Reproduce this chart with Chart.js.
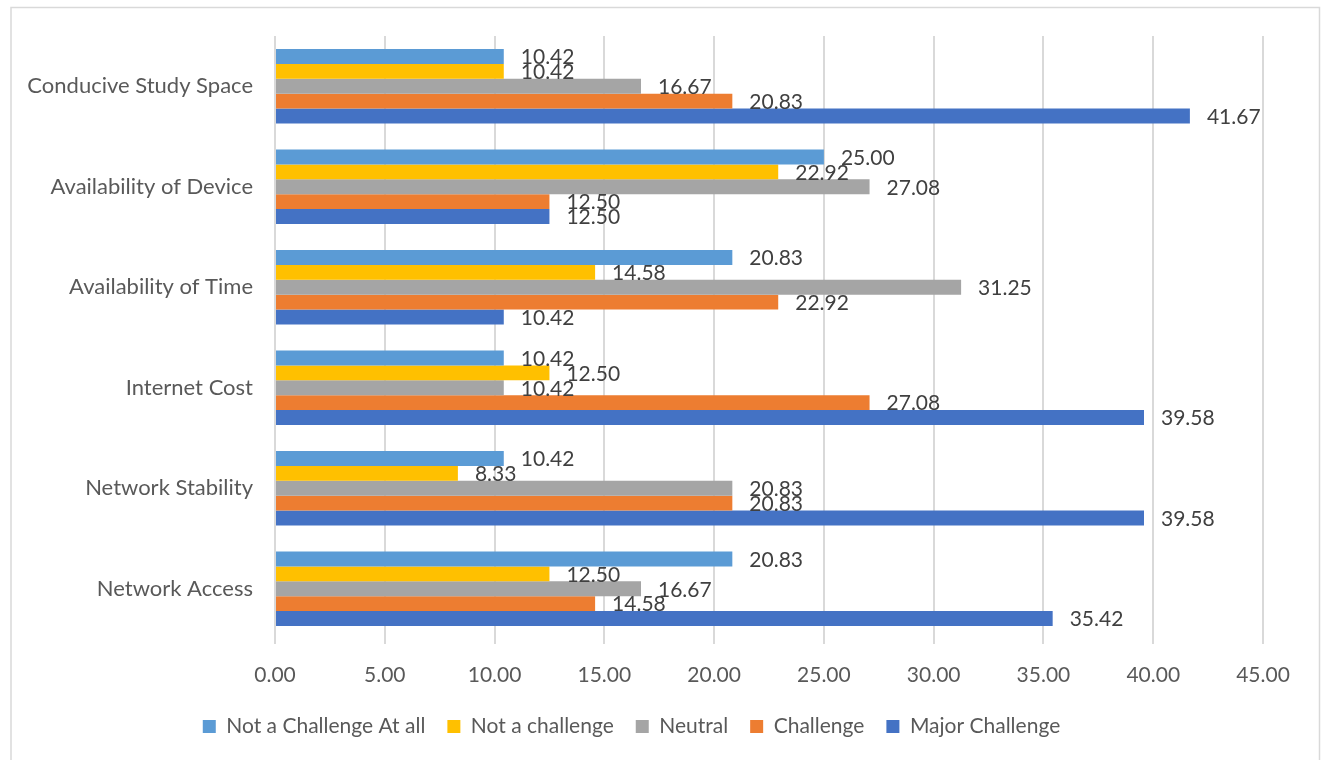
<!DOCTYPE html>
<html>
<head>
<meta charset="utf-8">
<title>Challenges</title>
<script src="https://cdn.jsdelivr.net/npm/chart.js@4.4.1/dist/chart.umd.min.js"></script>
<style>
  html, body { margin: 0; padding: 0; background: #fff; }
  #wrap { position: relative; width: 1322px; height: 760px; }
</style>
</head>
<body>
<div id="wrap"><canvas id="chart" width="1322" height="760"></canvas></div>
<script>
// Categories, top to bottom as shown in the chart
const categories = [
  "Conducive Study Space",
  "Availability of Device",
  "Availability of Time",
  "Internet Cost",
  "Network Stability",
  "Network Access"
];

const seriesNames = [
  "Not a Challenge At all",
  "Not a challenge",
  "Neutral",
  "Challenge",
  "Major Challenge"
];

const notAtAll = [10.42, 25.00, 20.83, 10.42, 10.42, 20.83];
const notChallenge = [10.42, 22.92, 14.58, 12.50, 8.33, 12.50];
const neutral = [16.67, 27.08, 31.25, 10.42, 20.83, 16.67];
const challenge = [20.83, 12.50, 22.92, 27.08, 20.83, 14.58];
const majorChallenge = [41.67, 12.50, 10.42, 39.58, 39.58, 35.42];

const xTicks = [0, 5, 10, 15, 20, 25, 30, 35, 40, 45];

const colors = ["#5B9BD5", "#FFC000", "#A5A5A5", "#ED7D31", "#4472C4"];
const seriesValues = [notAtAll, notChallenge, neutral, challenge, majorChallenge];

const FONT = "Lato, 'Open Sans', sans-serif";

// Outer frame like the Excel chart area
const framePlugin = {
  id: "frame",
  beforeDraw(chart) {
    const ctx = chart.ctx;
    ctx.save();
    ctx.fillStyle = "#ffffff";
    ctx.fillRect(0, 0, chart.width, chart.height);
    ctx.strokeStyle = "#D9D9D9";
    ctx.lineWidth = 1.5;
    ctx.beginPath();
    ctx.moveTo(11, 770);
    ctx.lineTo(11, 7.5);
    ctx.lineTo(1319.5, 7.5);
    ctx.lineTo(1319.5, 770);
    ctx.stroke();
    ctx.restore();
  }
};

// Value labels at the outside end of each bar
const valueLabels = {
  id: "valueLabels",
  afterDatasetsDraw(chart) {
    const ctx = chart.ctx;
    ctx.save();
    ctx.font = "21px " + FONT;
    ctx.fillStyle = "#404040";
    ctx.textAlign = "left";
    ctx.textBaseline = "middle";
    chart.data.datasets.forEach(function (ds, i) {
      const meta = chart.getDatasetMeta(i);
      meta.data.forEach(function (bar, j) {
        ctx.fillText(Number(ds.data[j]).toFixed(2), bar.x + 17, bar.y + 1);
      });
    });
    ctx.restore();
  }
};

const ctx = document.getElementById("chart").getContext("2d");

new Chart(ctx, {
  type: "bar",
  data: {
    labels: categories,
    datasets: seriesNames.map(function (name, i) {
      return {
        label: name,
        data: seriesValues[i],
        backgroundColor: colors[i],
        borderWidth: 0,
        barPercentage: 1,
        categoryPercentage: 0.74
      };
    })
  },
  options: {
    indexAxis: "y",
    responsive: false,
    animation: false,
    layout: {
      padding: { top: 36, right: 59, bottom: 13, left: 0 }
    },
    plugins: {
      tooltip: { enabled: false },
      legend: {
        position: "bottom",
        labels: {
          boxWidth: 13,
          boxHeight: 13,
          padding: 22,
          color: "#595959",
          font: { family: FONT, size: 21 }
        }
      }
    },
    scales: {
      x: {
        min: 0,
        max: 45,
        afterBuildTicks(scale) {
          scale.ticks = xTicks.map(function (v) { return { value: v }; });
        },
        afterFit(scale) {
          scale.height = 55;
        },
        grid: {
          color: "#D9D9D9",
          lineWidth: 2,
          drawTicks: true,
          tickLength: 5
        },
        border: { display: false },
        ticks: {
          color: "#595959",
          padding: 19,
          font: { family: FONT, size: 21 },
          callback(v) { return Number(v).toFixed(2); }
        }
      },
      y: {
        afterFit(scale) {
          scale.width = 275;
        },
        grid: { display: false, drawTicks: false },
        border: { display: false },
        ticks: {
          color: "#595959",
          padding: 22,
          font: { family: FONT, size: 22 }
        }
      }
    }
  },
  plugins: [framePlugin, valueLabels]
});
</script>
</body>
</html>
